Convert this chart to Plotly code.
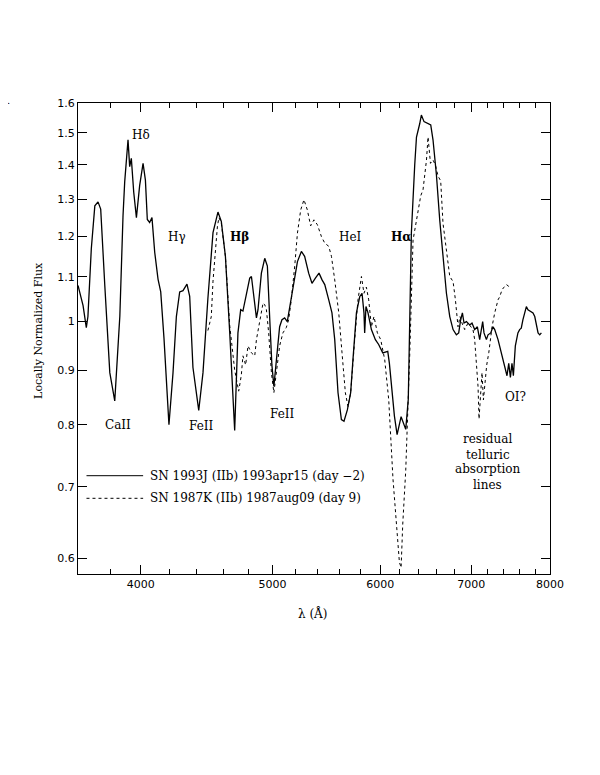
import numpy as np
import plotly.graph_objects as go

# SN 1993J (IIb) 1993apr15 (day -2), solid
wave_93j = [3597, 3628, 3648, 3658, 3679, 3701, 3721, 3738, 3764, 3796,
            3828, 3861, 3882, 3893, 3915, 3926, 3937, 3953, 3971, 3993,
            4016, 4032, 4045, 4061, 4077, 4096, 4119, 4138, 4161, 4196,
            4225, 4249, 4273, 4297, 4326, 4346, 4370, 4413, 4445, 4482,
            4521, 4559, 4585, 4617, 4651, 4677, 4690, 4716, 4738, 4756,
            4776, 4811, 4825, 4846, 4866, 4879, 4907, 4935, 4957, 4976,
            4995, 5012, 5033, 5061, 5081, 5104, 5127, 5148, 5177, 5216,
            5251, 5280, 5316, 5346, 5377, 5410, 5438, 5463, 5500, 5530,
            5556, 5587, 5619, 5644, 5676, 5708, 5730, 5764, 5796, 5819,
            5838, 5845, 5858, 5878, 5912, 5952, 5985, 6027, 6078, 6095,
            6147, 6175, 6217, 6266, 6293, 6308, 6326, 6362, 6381, 6416,
            6434, 6463, 6507, 6537, 6562, 6600, 6637, 6674, 6713, 6751,
            6789, 6827, 6854, 6877, 6897, 6916, 6944, 6983, 7010, 7042,
            7074, 7102, 7122, 7138, 7154, 7183, 7203, 7236, 7264, 7285,
            7326, 7368, 7409, 7438, 7460, 7481, 7501, 7519, 7544, 7577,
            7599, 7620, 7641, 7664, 7686, 7707, 7743, 7773, 7796, 7818,
            7840, 7862, 7884]
flux_93j = [1.08, 1.034, 0.986, 1.01, 1.169, 1.282, 1.293, 1.273, 1.08, 0.895,
            0.842, 1.01, 1.255, 1.35, 1.478, 1.395, 1.42, 1.32, 1.25, 1.34,
            1.405, 1.355, 1.245, 1.237, 1.25, 1.16, 1.095, 1.065, 0.963, 0.80,
            0.895, 1.01, 1.065, 1.068, 1.083, 1.055, 0.905, 0.825, 0.895, 1.05,
            1.21, 1.265, 1.24, 1.15, 0.975, 0.83, 0.79, 0.975, 1.025, 1.022,
            1.047, 1.097, 1.101, 1.047, 1.007, 1.025, 1.109, 1.145, 1.126, 1.01,
            0.91, 0.869, 0.92, 0.988, 1.003, 1.007, 0.999, 1.032, 1.076, 1.137,
            1.162, 1.15, 1.109, 1.085, 1.097, 1.109, 1.093, 1.082, 1.047, 1.018,
            0.961, 0.857, 0.809, 0.806, 0.826, 0.857, 0.92, 1.018, 1.054, 1.062,
            1.018, 0.975, 1.032, 1.018, 0.982, 0.961, 0.951, 0.934, 0.937, 0.913,
            0.815, 0.783, 0.814, 0.792, 0.845, 0.98, 1.209, 1.40, 1.487, 1.53,
            1.559, 1.537, 1.53, 1.526, 1.478, 1.371, 1.244, 1.15, 1.062, 1.01,
            0.982, 0.971, 0.975, 1.003, 1.018, 0.996, 0.999, 0.992, 0.996, 0.982,
            0.988, 0.961, 0.988, 0.999, 0.975, 0.961, 0.971, 0.975, 0.988, 0.982,
            0.961, 0.934, 0.91, 0.889, 0.913, 0.886, 0.913, 0.889, 0.948, 0.975,
            0.982, 0.985, 1.003, 1.018, 1.032, 1.025, 1.022, 1.018, 1.01, 0.988,
            0.975, 0.971, 0.975]

# SN 1987K (IIb) 1987aug09 (day 9), dotted
wave_87k = [4482, 4508, 4521, 4534, 4555, 4567, 4585, 4617, 4651, 4690,
            4722, 4743, 4756, 4778, 4797, 4825, 4852, 4866, 4893, 4921,
            4935, 4949, 4968, 4991, 5012, 5033, 5061, 5089, 5118, 5139,
            5162, 5192, 5216, 5245, 5274, 5304, 5334, 5364, 5395, 5432,
            5463, 5500, 5525, 5556, 5594, 5625, 5657, 5682, 5708, 5747,
            5779, 5813, 5838, 5862, 5885, 5912, 5938, 5972, 6006, 6047,
            6088, 6132, 6175, 6199, 6217, 6234, 6266, 6290, 6308, 6326,
            6344, 6370, 6398, 6427, 6452, 6490, 6507, 6534, 6562, 6589,
            6618, 6648, 6674, 6713, 6751, 6789, 6816, 6846, 6869, 6892,
            6924, 6963, 6995, 7022, 7042, 7062, 7082, 7094, 7114, 7130,
            7147, 7163, 7187, 7212, 7236, 7252, 7285, 7326, 7347, 7376,
            7401, 7431, 7460, 7472]
flux_87k = [0.98, 1.01, 1.09, 1.14, 1.227, 1.25, 1.235, 1.15, 0.99, 0.90,
            0.86, 0.89, 0.928, 0.91, 0.948, 0.934, 0.928, 0.961, 0.996, 1.04,
            1.036, 1.025, 0.975, 0.895, 0.857, 0.895, 0.948, 0.975, 0.986, 1.003,
            1.047, 1.126, 1.209, 1.271, 1.299, 1.271, 1.228, 1.244, 1.231, 1.2,
            1.183, 1.175, 1.15, 1.093, 1.018, 0.934, 0.857, 0.832, 0.857, 0.961,
            1.047, 1.101, 1.062, 1.076, 1.047, 0.988, 1.01, 0.975, 0.961, 0.92,
            0.844, 0.712, 0.635, 0.595, 0.588, 0.645, 0.725, 0.82, 0.928, 1.05,
            1.191, 1.227, 1.271, 1.31, 1.327, 1.415, 1.487, 1.405, 1.415, 1.40,
            1.367, 1.353, 1.235, 1.166, 1.101, 1.089, 1.047, 0.988, 1.01, 0.996,
            0.982, 0.996, 0.988, 0.982, 0.961, 0.91, 0.869, 0.81, 0.857, 0.895,
            0.844, 0.869, 0.91, 0.934, 0.975, 0.988, 1.018, 1.047, 1.054, 1.07,
            1.076, 1.082, 1.078, 1.085]

x_ticks = [4000, 5000, 6000, 7000, 8000]
x_minor = [3800, 4200, 4400, 4600, 4800, 5200, 5400, 5600, 5800,
           6200, 6400, 6600, 6800, 7200, 7400, 7600, 7800]
y_ticks = [0.6, 0.7, 0.8, 0.9, 1.0, 1.1, 1.2, 1.3, 1.4, 1.5, 1.6]
y_ticktext = ["0.6", "0.7", "0.8", "0.9", "1", "1.1", "1.2", "1.3", "1.4", "1.5", "1.6"]

# line identifications: (text, wavelength, flux, bold)
line_labels = [
    ("H\u03b4", 4005, 1.495, False),
    ("H\u03b3", 4255, 1.20, False),
    ("H\u03b2", 4731, 1.20, True),
    ("HeI", 5702, 1.20, False),
    ("H\u03b1", 6226, 1.20, True),
    ("CaII", 3850, 0.80, False),
    ("FeII", 4433, 0.798, False),
    ("FeII", 5089, 0.818, False),
    ("OI?", 7548, 0.85, False),
]
telluric_text = ["residual", "telluric", "absorption", "lines"]
telluric_flux = [0.775, 0.750, 0.727, 0.702]

serif = "DejaVu Serif"

fig = go.Figure()
fig.add_trace(go.Scatter(x=wave_93j, y=flux_93j, mode="lines",
                         line=dict(color="black", width=1.3), showlegend=False))
fig.add_trace(go.Scatter(x=wave_87k, y=flux_87k, mode="lines",
                         line=dict(color="black", width=1, dash="dot"), showlegend=False))

annotations = []
for text, wl, fl, bold in line_labels:
    annotations.append(dict(x=np.log10(wl), y=np.log10(fl), xref="x", yref="y",
                            text=f"<b>{text}</b>" if bold else text, showarrow=False,
                            xanchor="center", yanchor="middle",
                            font=dict(family=serif, size=12, color="black")))
for text, fl in zip(telluric_text, telluric_flux):
    annotations.append(dict(x=np.log10(7199), y=np.log10(fl), xref="x", yref="y",
                            text=text, showarrow=False, xanchor="center", yanchor="middle",
                            font=dict(family=serif, size=12, color="black")))

# legend drawn by hand
legend_rows = [("SN 1993J (IIb) 1993apr15 (day \u22122)", 0.2087, "solid"),
               ("SN 1987K (IIb) 1987aug09 (day 9)", 0.1607, "dot")]
shapes = []
for text, ypos, dash in legend_rows:
    shapes.append(dict(type="line", xref="paper", yref="paper", x0=0.018, x1=0.138,
                       y0=ypos, y1=ypos, line=dict(color="black", width=1, dash=dash)))
    annotations.append(dict(x=0.148, y=ypos, xref="paper", yref="paper", text=text,
                            xanchor="left", yanchor="middle", showarrow=False,
                            font=dict(family=serif, size=12, color="black")))

annotations.append(dict(x=-0.085, y=0.518, xref="paper", yref="paper",
                        text="Locally Normalized Flux", textangle=-90, showarrow=False,
                        xanchor="center", yanchor="middle",
                        font=dict(family=serif, size=11, color="black")))
annotations.append(dict(x=0.496, y=-0.083, xref="paper", yref="paper",
                        text="\u03bb (\u00c5)", showarrow=False,
                        xanchor="center", yanchor="middle",
                        font=dict(family=serif, size=12, color="black")))
annotations.append(dict(x=-0.148, y=1.006, xref="paper", yref="paper", text=".",
                        showarrow=False, xanchor="center", yanchor="middle",
                        font=dict(family=serif, size=10, color="black")))

# the page body adds an 8 px offset, so the margins are shifted to compensate
fig.update_layout(
    width=600, height=775, autosize=False,
    margin=dict(l=70, r=58, t=95, b=209),
    paper_bgcolor="white", plot_bgcolor="white",
    annotations=annotations, shapes=shapes,
    xaxis=dict(type="log", range=[np.log10(3597), np.log10(8000)],
               tickmode="array", tickvals=x_ticks, ticktext=[str(v) for v in x_ticks],
               ticks="inside", ticklen=9, tickcolor="black", tickwidth=1,
               minor=dict(tickmode="array", tickvals=x_minor, ticks="inside",
                          ticklen=5, tickcolor="black", tickwidth=1, showgrid=False),
               showline=True, linecolor="black", linewidth=1, mirror="ticks",
               showgrid=False, zeroline=False,
               tickfont=dict(family="DejaVu Sans", size=11, color="black")),
    yaxis=dict(type="log", range=[np.log10(0.58), np.log10(1.6)],
               tickmode="array", tickvals=y_ticks, ticktext=y_ticktext,
               ticks="inside", ticklen=9, tickcolor="black", tickwidth=1,
               showline=True, linecolor="black", linewidth=1, mirror="ticks",
               showgrid=False, zeroline=False,
               tickfont=dict(family="DejaVu Sans", size=11, color="black")),
)

fig.write_html("out.html")
